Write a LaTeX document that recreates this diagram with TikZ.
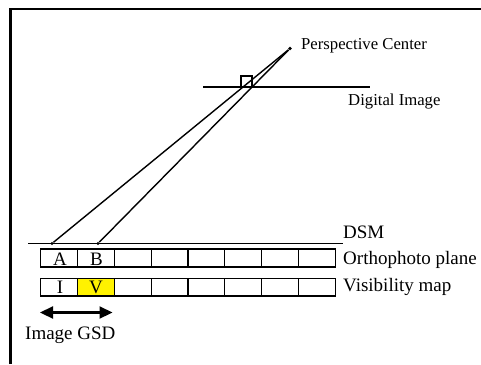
\documentclass[tikz,border=0pt]{standalone}
\usepackage{fontspec}
\setmainfont{Liberation Serif}
\usetikzlibrary{arrows.meta}
\begin{document}
\begin{tikzpicture}[x=1pt,y=-1pt,
  toplbl/.style={anchor=base west,inner sep=0pt,font=\fontsize{16.7}{18}\selectfont},
  lbl/.style={anchor=base west,inner sep=0pt,font=\fontsize{19}{21}\selectfont},
  celltxt/.style={anchor=base,inner sep=0pt,font=\fontsize{19}{21}\selectfont},
  ray/.style={line width=1.4pt},
  cellrow/.style={line width=1.2pt},
  pt/.style={circle,fill=black,inner sep=0pt,minimum size=3.8pt}]
\useasboundingbox (0,0) rectangle (481,364);
\fill[white] (0,0) rectangle (481,364);
% frame (only top and left visible)
\draw[line width=2.5pt] (10.5,364) -- (10.5,9) -- (481,9);
% perspective center
\node[pt] (pc) at (290,48.5) {};
\node[toplbl] (pclbl) at (301,49) {Perspective Center};
% digital image line
\coordinate (di1) at (203,87);
\coordinate (di2) at (370,87);
\draw[ray] (di1) -- (di2);
\node[toplbl] (dilbl) at (348,105) {Digital Image};
\node[draw,line width=1.1pt,minimum size=11pt,inner sep=0pt] (px) at (246.5,81.5) {};
% DSM
\coordinate (dsm1) at (28,243.5);
\coordinate (dsm2) at (343,243.5);
\draw[ray] (dsm1) -- (dsm2);
\node[lbl] (dsmlbl) at (343,238.5) {DSM};
\node[pt,minimum size=3.2pt] (a) at (52,243.5) {};
\node[pt,minimum size=3.2pt] (b) at (98,243.5) {};
\draw[ray] (pc) -- (a);
\draw[ray] (pc) -- (b);
% rows
\fill[yellow] (77.5,278.5) rectangle (114.3,296);
\foreach \i in {0,...,7} {
  \draw[cellrow] ({40.7+\i*36.8},249) rectangle ({40.7+(\i+1)*36.8},267);
  \draw[cellrow] ({40.7+\i*36.8},278.5) rectangle ({40.7+(\i+1)*36.8},296);
}
\node[celltxt] (ca) at (60,265) {A};
\node[celltxt] (cb) at (96.5,265) {B};
\node[celltxt] (ci) at (60,293.5) {I};
\node[celltxt] (cv) at (96,293.5) {V};
\node[lbl] (orlbl) at (343,264.5) {Orthophoto plane};
\node[lbl] (vmlbl) at (343,291.5) {Visibility map};
% GSD arrow
\coordinate (g1) at (40,312.5);
\coordinate (g2) at (112.5,312.5);
\draw[line width=2.2pt,{Triangle[length=13pt,width=12pt]}-{Triangle[length=13pt,width=12pt]}] (g1) -- (g2);
\node[lbl] (gsd) at (25,339) {Image GSD};
\end{tikzpicture}
\end{document}
